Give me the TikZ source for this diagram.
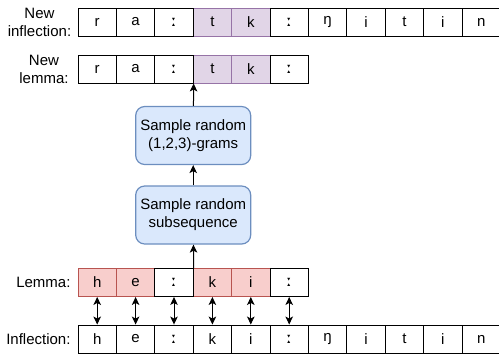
\documentclass[tikz,border=0pt]{standalone}
\usepackage{fontspec}
\setmainfont{Liberation Sans}
\newfontfamily\ipafont{DejaVu Sans}
\usetikzlibrary{arrows.meta}
\definecolor{redfill}{HTML}{F8CECC}
\definecolor{redline}{HTML}{B85450}
\definecolor{purplefill}{HTML}{E1D5E7}
\definecolor{purpleline}{HTML}{9673A6}
\definecolor{bluefill}{HTML}{DAE8FC}
\definecolor{blueline}{HTML}{6C8EBF}
\newcommand{\lng}{{\ipafont\bfseries ː}}
\tikzset{
  txt/.style={font=\fontsize{15}{18}\selectfont},
  cell/.style={txt,draw,line width=0.9pt,minimum width=38.4pt,minimum height=28pt,inner sep=0pt},
  redcell/.style={cell,fill=redfill,draw=redline},
  purplecell/.style={cell,fill=purplefill,draw=purpleline},
  stepbox/.style={txt,draw=blueline,fill=bluefill,line width=1.2pt,rounded corners=9pt,
    minimum width=115pt,minimum height=58pt,align=center,inner sep=0pt},
  arr/.style={-{Stealth[length=8pt,width=7.5pt,inset=2pt]},line width=1pt},
  dblarr/.style={{Stealth[length=8pt,width=7.5pt,inset=2pt]}-{Stealth[length=8pt,width=7.5pt,inset=2pt]},line width=1pt}
}
\begin{document}
\begin{tikzpicture}[x=1pt,y=-1pt]
\useasboundingbox (0,0) rectangle (499,354);

\node[txt,align=center] (newinflabel) at (39.5,22) {New\\inflection:};
\node[txt,align=center] (newlemlabel) at (44,69) {New\\lemma:};
\node[txt,anchor=east] (lemlabel) at (74,282.5) {Lemma:};
\node[txt,anchor=east] (inflabel) at (74,339) {Inflection:};

\foreach \i/\ch/\sty in {4/t/purplecell, 5/k/purplecell, 1/r/cell, 2/a/cell, 3/\lng/cell, 6/\lng/cell, 7/ŋ/cell, 8/i/cell, 9/t/cell, 10/i/cell, 11/n/cell}
  \node[\sty] (ninf\i) at (58.8+38.4*\i,22) {\ch};

\foreach \i/\ch/\sty in {4/t/purplecell, 5/k/purplecell, 1/r/cell, 2/a/cell, 3/\lng/cell, 6/\lng/cell}
  \node[\sty] (nlem\i) at (58.8+38.4*\i,69) {\ch};

\foreach \i/\ch/\sty in {1/h/redcell, 2/e/redcell, 4/k/redcell, 5/i/redcell, 3/\lng/cell, 6/\lng/cell}
  \node[\sty] (lem\i) at (58.8+38.4*\i,282.5) {\ch};

\foreach \i/\ch in {1/h, 2/e, 3/\lng, 4/k, 5/i, 6/\lng, 7/ŋ, 8/i, 9/t, 10/i, 11/n}
  \node[cell] (inf\i) at (58.8+38.4*\i,339) {\ch};

\node[stepbox] (subseq) at (193.2,215) {Sample random\\subsequence};
\node[stepbox] (ngrams) at (193.2,135.5) {Sample random\\(1,2,3)-grams};

\foreach \i in {1,...,6}
  \draw[dblarr] (lem\i) -- (inf\i);

\draw[arr] (lem3.north east) -- (subseq);
\draw[arr] (subseq) -- (ngrams);
\draw[arr] (ngrams) -- (nlem3.south east);

\end{tikzpicture}
\end{document}
